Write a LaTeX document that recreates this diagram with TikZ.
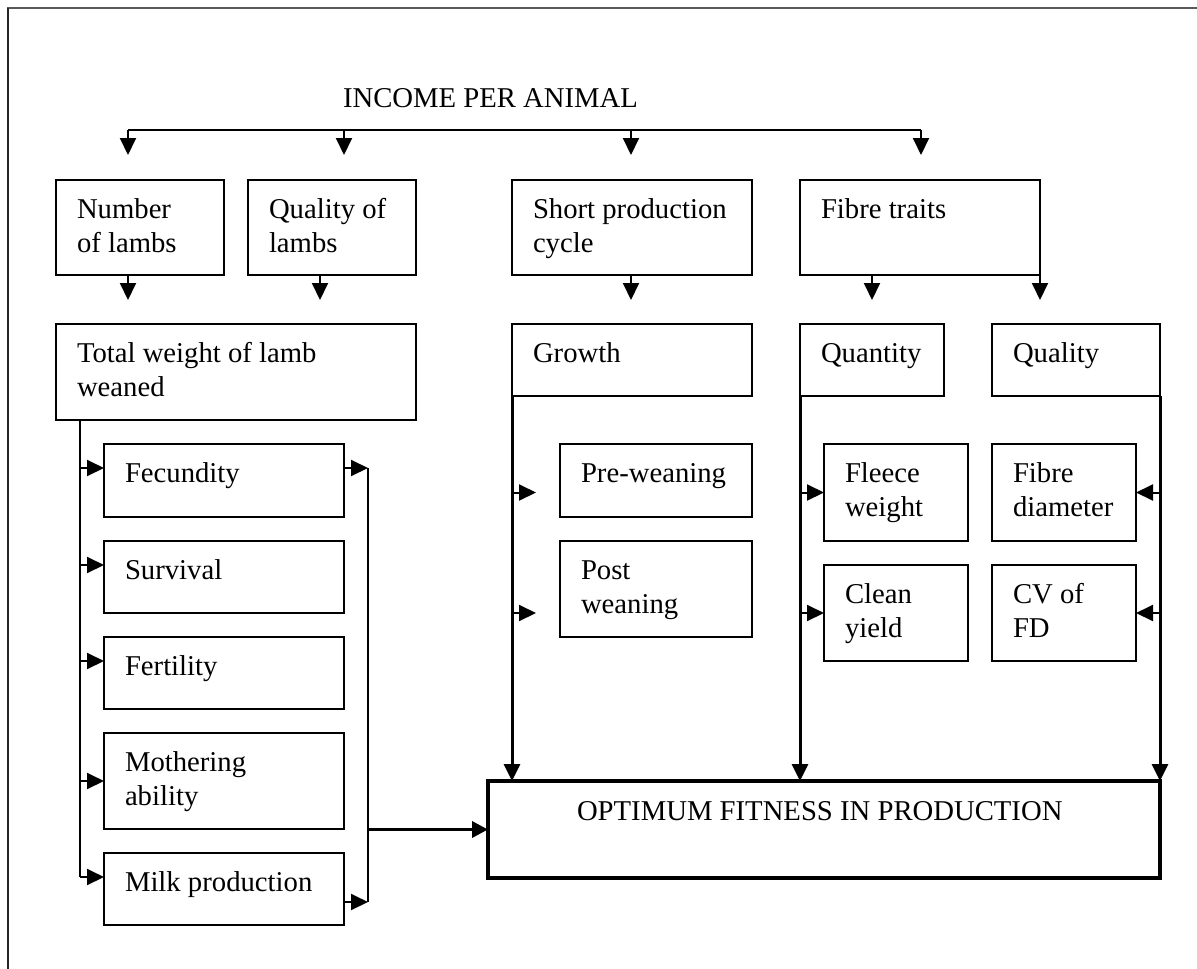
\documentclass[tikz,border=0pt]{standalone}
\usepackage{fontspec}
\setmainfont{Liberation Serif}
\usetikzlibrary{arrows.meta,calc}
\newcommand\mkbox[7][bx]{%
  \node[#1, minimum width={#5-#3}, minimum height={#6-#4}] (#2) at ({(#3+#5)/2},{(#4+#6)/2}) {};
  \node[lbl] (#2t) at ([xshift=21pt,yshift=-38pt]#2.north west) {\parbox[t]{400pt}{#7}};}
\begin{document}
\begin{tikzpicture}[x=1pt,y=-1pt,
  bx/.style={draw, line width=1.8pt, inner sep=0, outer sep=0},
  bigbx/.style={draw, line width=3.5pt, inner sep=0, outer sep=0},
  lbl/.style={anchor=base west, inner sep=0, outer sep=0, font=\fontsize{28.7}{34}\selectfont},
  ln/.style={line width=2pt},
  arr/.style={line width=2pt, -{Triangle[length=17pt,width=16pt]}},
  tarr/.style={line width=3pt, -{Triangle[length=17pt,width=16pt]}},
  warr/.style={line width=3.5pt, -{Triangle[length=16pt,width=16pt]}}]
\useasboundingbox (0,0) rectangle (1197,969);
% frame
\draw[line width=2.5pt, color=black!65] (7,8) -- (1197,8);
\draw[line width=1.3pt, color=black!85] (8,8) -- (8,969);
% title and bus
\node[lbl] (title) at (343,107) {INCOME PER ANIMAL};
\coordinate (b1) at (128,130);
\coordinate (b2) at (344,130);
\coordinate (b3) at (631,130);
\coordinate (b4) at (921,130);
\draw[ln] (b1) -- (b4);
\foreach \b in {b1,b2,b3,b4} \draw[arr] (\b) -- ++(0,25);
% boxes
\mkbox{num}{56}{180}{224}{275}{Number\\of lambs}
\mkbox{qual}{248}{180}{416}{275}{Quality of\\lambs}
\mkbox{spc}{512}{180}{752}{275}{Short production\\cycle}
\mkbox{fib}{800}{180}{1040}{275}{Fibre traits}
\mkbox{tw}{56}{324}{416}{420}{Total weight of lamb\\weaned}
\mkbox{gro}{512}{324}{752}{396}{Growth}
\mkbox{qty}{800}{324}{944}{396}{Quantity}
\mkbox{qly}{992}{324}{1160}{396}{Quality}
\mkbox{fec}{104}{444}{344}{517}{Fecundity}
\mkbox{sur}{104}{541}{344}{613}{Survival}
\mkbox{fer}{104}{637}{344}{709}{Fertility}
\mkbox{mot}{104}{733}{344}{829}{Mothering\\ability}
\mkbox{mil}{104}{853}{344}{925}{Milk production}
\mkbox{pre}{560}{444}{752}{517}{Pre-weaning}
\mkbox{post}{560}{541}{752}{637}{Post\\weaning}
\mkbox{flw}{824}{444}{968}{541}{Fleece\\weight}
\mkbox{cly}{824}{565}{968}{661}{Clean\\yield}
\mkbox{fd}{992}{444}{1136}{541}{Fibre\\diameter}
\mkbox{cv}{992}{565}{1136}{661}{CV of\\FD}
\node[bigbx, minimum width=672, minimum height=97] (opt) at (824,829.5) {};
\node[lbl] (optt) at ([xshift=89pt,yshift=-39pt]opt.north west) {OPTIMUM FITNESS IN PRODUCTION};
% row 1 -> row 2
\draw[arr] ([xshift=72pt]num.south west) -- ++(0,25);
\draw[arr] ([xshift=72pt]qual.south west) -- ++(0,25);
\draw[arr] ([xshift=119pt]spc.south west) -- ++(0,25);
\draw[arr] ([xshift=72pt]fib.south west) -- ++(0,25);
\draw[arr] (fib.south east) -- ++(0,25);
% arrow targets (off-centre)
\coordinate (fecW) at ([yshift=12.5pt]fec.west);
\coordinate (surW) at ([yshift=12pt]sur.west);
\coordinate (ferW) at ([yshift=12pt]fer.west);
\coordinate (milW) at ([yshift=12pt]mil.west);
\coordinate (fecE) at ([yshift=12.5pt]fec.east);
\coordinate (milE) at ([yshift=-13pt]mil.east);
% left spine
\coordinate (sp) at ([xshift=24pt]tw.south west);
\coordinate (spe) at (sp |- milW);
\draw[ln] (sp) -- (spe);
\draw[arr] (sp |- fecW) -- (fecW);
\draw[arr] (sp |- surW) -- (surW);
\draw[arr] (sp |- ferW) -- (ferW);
\draw[arr] (sp |- mot.west) -- (mot.west);
\draw[arr] (spe) -- (milW);
% right collector
\coordinate (ct) at ([xshift=24pt]fecE);
\coordinate (cb) at ([xshift=24pt]milE);
\draw[arr] (fecE) -- (ct);
\draw[arr] (milE) -- (cb);
\draw[ln] (ct) -- (cb);
\draw[warr] (ct |- opt.west) -- (opt.west);
% growth spine
\draw[tarr] (gro.south west) -- (gro.south west |- opt.north);
\draw[arr] (gro.south west |- flw.west) -- ++(24,0);
\draw[arr] (gro.south west |- cly.west) -- ++(24,0);
% quantity spine
\draw[tarr] (qty.south west) -- (qty.south west |- opt.north);
\draw[arr] (qty.south west |- flw.west) -- (flw.west);
\draw[arr] (qty.south west |- cly.west) -- (cly.west);
% quality spine
\draw[tarr] (qly.south east) -- (opt.north east);
\draw[arr] (qly.south east |- fd.east) -- (fd.east);
\draw[arr] (qly.south east |- cv.east) -- (cv.east);
\end{tikzpicture}
\end{document}
